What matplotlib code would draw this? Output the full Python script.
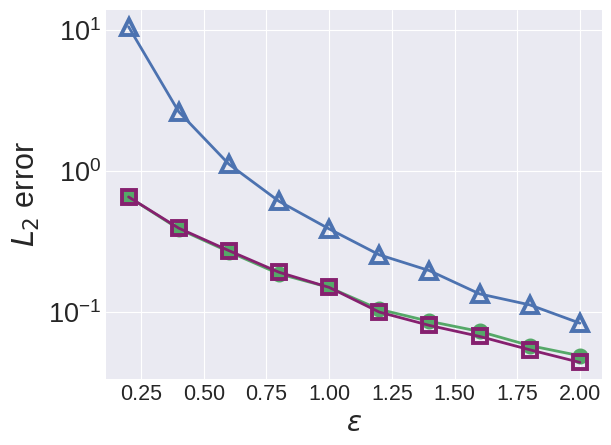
import matplotlib
matplotlib.use("Agg")
import matplotlib.pyplot as plt
from matplotlib.ticker import MultipleLocator

eps = [0.2, 0.4, 0.6, 0.8, 1.0, 1.2, 1.4, 1.6, 1.8, 2.0]
err_tri = [10.6, 2.64, 1.12, 0.61, 0.388, 0.254, 0.196, 0.134, 0.112, 0.083]
err_circ = [0.655, 0.388, 0.267, 0.186, 0.149, 0.104, 0.0855, 0.0725, 0.0575, 0.0487]
err_sq = [0.655, 0.393, 0.272, 0.191, 0.149, 0.0995, 0.080, 0.0668, 0.0537, 0.0437]

plt.style.use("seaborn-v0_8-darkgrid")
plt.rcParams['font.sans-serif'] = ['Liberation Sans', 'DejaVu Sans']

fig = plt.figure(figsize=(6.11, 4.45), dpi=100)
ax = fig.add_axes([0.1735, 0.148, 0.8125, 0.8295])

ax.plot(eps, err_tri, color="#4C72B0", marker="^", ms=11.5, mew=2.8, mfc="none", lw=2)
ax.plot(eps, err_circ, color="#55A868", marker="o", ms=10.5, lw=2)
ax.plot(eps, err_sq, color="#86206F", marker="s", ms=10.5, mew=2.8, mfc="none", lw=2)

ax.set_yscale("log")
ax.xaxis.set_major_locator(MultipleLocator(0.25))
ax.set_xlabel(r"$\epsilon$", fontsize=20)
ax.set_ylabel(r"$L_2$ error", fontsize=22)
ax.tick_params(axis="x", labelsize=15.5)
ax.tick_params(axis="y", labelsize=19.5)

fig.savefig("out.png", dpi=100)
